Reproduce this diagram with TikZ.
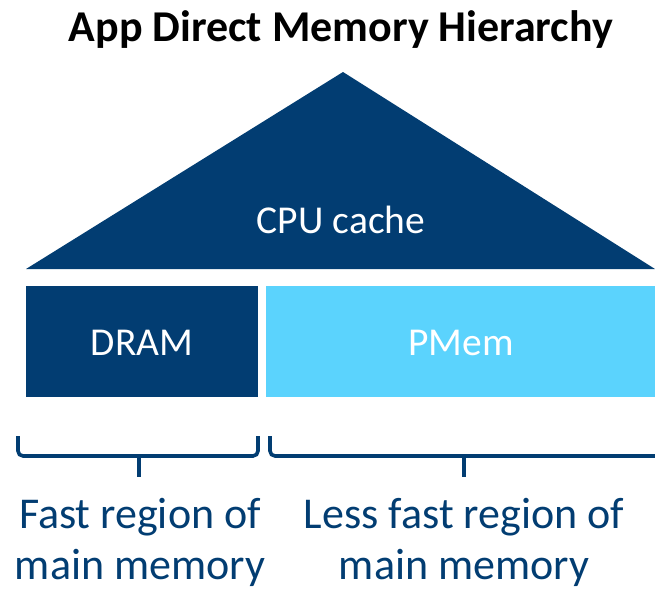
\documentclass[tikz,border=0pt]{standalone}
\usepackage{fontspec}
\setmainfont{Carlito}
\definecolor{navy}{HTML}{023D72}
\definecolor{skyblue}{HTML}{5BD3FD}
\begin{document}
\begin{tikzpicture}[x=1pt,y=-1pt,
  label/.style={font=\fontsize{39.5}{46}\selectfont, text=white, inner sep=0pt},
  caption/.style={font=\fontsize{44}{51}\selectfont, text=navy, inner sep=0pt, align=center},
  brace/.style={draw=navy, line width=3.6pt, rounded corners=5pt, line cap=butt}]
  \useasboundingbox (0,0) rectangle (655,589);

  % title
  \node[inner sep=0pt, anchor=base, font=\fontsize{44}{50}\selectfont\bfseries] (title) at (341,41) {App Direct Memory Hierarchy};

  % CPU cache triangle
  \fill[navy] (26,269) -- (343,72) -- (655,269) -- cycle;
  \node[label, anchor=base] (cpu) at (341,233) {CPU cache};

  % memory tiers
  \fill[navy] (26,286) rectangle (258,397);
  \fill[skyblue] (266,286) rectangle (655,397);
  \node[label, anchor=base] (dram) at (142,355) {DRAM};
  \node[label, anchor=base] (pmem) at (461,355) {PMem};

  % braces under the tiers
  \coordinate (lb) at (139,477);
  \coordinate (rb) at (464,477);
  \draw[brace] (18,436) -- (18,456) -- (139,456) -- (258,456) -- (258,436);
  \draw[brace] (139,456) -- (lb);
  \draw[brace] (270,436) -- (270,456) -- (464,456) -- (660,456);
  \draw[brace] (464,456) -- (rb);

  % captions
  \node[caption, anchor=base] (fast1) at (140,528) {Fast region of};
  \node[caption, anchor=base] (fast2) at (140,579) {main memory};
  \node[caption, anchor=base] (less1) at (464,528) {Less fast region of};
  \node[caption, anchor=base] (less2) at (464,579) {main memory};
\end{tikzpicture}
\end{document}
